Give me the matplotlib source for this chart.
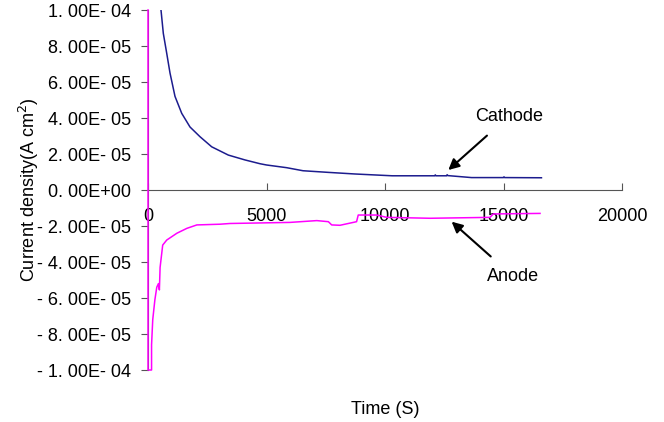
import matplotlib.pyplot as plt
import numpy as np

plt.rcParams['font.family'] = ['Liberation Sans', 'DejaVu Sans']

# Cathode current density (A cm^-2) vs time (s)
cathode_t = [548, 646, 789, 928, 1139, 1422, 1772, 2194, 2687, 3390, 4093,
             4726, 5000, 5850, 6540, 7600, 8730, 10300, 12100, 12120, 12150,
             12600, 12620, 12650, 13650, 15000, 15020, 15040, 16600]
cathode_j = [1.0e-4, 8.7e-5, 7.6e-5, 6.5e-5, 5.2e-5, 4.26e-5, 3.5e-5, 2.96e-5,
             2.4e-5, 1.94e-5, 1.67e-5, 1.46e-5, 1.39e-5, 1.24e-5, 1.07e-5,
             0.98e-5, 0.89e-5, 0.79e-5, 0.79e-5, 0.84e-5, 0.79e-5, 0.79e-5,
             0.85e-5, 0.8e-5, 0.69e-5, 0.69e-5, 0.73e-5, 0.69e-5, 0.68e-5]

# Anode current density (A cm^-2) vs time (s)
anode_t = [0, 0, 150, 150, 200, 290, 370, 440, 480, 510, 620, 790, 1220,
           1640, 2060, 3040, 3460, 5990, 7120, 7610, 7750, 8100, 8800, 8870,
           9650, 10070, 11900, 14430, 14570, 16540]
anode_j = [1.0e-4, -1.0e-4, -1.0e-4, -8.6e-5, -7.2e-5, -6.1e-5, -5.4e-5,
           -5.2e-5, -5.55e-5, -4.3e-5, -3.06e-5, -2.78e-5, -2.4e-5, -2.13e-5,
           -1.94e-5, -1.9e-5, -1.86e-5, -1.8e-5, -1.7e-5, -1.76e-5, -1.94e-5,
           -1.96e-5, -1.76e-5, -1.39e-5, -1.39e-5, -1.52e-5, -1.57e-5,
           -1.52e-5, -1.33e-5, -1.3e-5]

y_ticks = [1e-4, 8e-5, 6e-5, 4e-5, 2e-5, 0, -2e-5, -4e-5, -6e-5, -8e-5, -1e-4]
y_labels = ['1. 00E- 04', '8. 00E- 05', '6. 00E- 05', '4. 00E- 05',
            '2. 00E- 05', '0. 00E+00', '- 2. 00E- 05', '- 4. 00E- 05',
            '- 6. 00E- 05', '- 8. 00E- 05', '- 1. 00E- 04']
x_ticks = [0, 5000, 10000, 15000, 20000]

fig = plt.figure(figsize=(6.64, 4.22), dpi=100)
ax = fig.add_axes([0.2229, 0.1232, 0.7139, 0.8531])

ax.plot(cathode_t, cathode_j, color='#1c1c8e', lw=1.1)
ax.plot(anode_t, anode_j, color='#ff00ff', lw=1.1, zorder=3, clip_on=False)

ax.set_xlim(0, 20000)
ax.set_ylim(-1e-4, 1e-4)

# axes styling: x axis through zero
for s in ['top', 'right']:
    ax.spines[s].set_visible(False)
ax.spines['bottom'].set_position(('data', 0))
ax.spines['bottom'].set_color('#555555')
ax.spines['left'].set_color('#555555')

ax.set_yticks(y_ticks)
ax.set_yticklabels(y_labels)
ax.set_xticks(x_ticks)
ax.tick_params(axis='y', direction='out', length=5, color='#555555',
               labelsize=13, pad=7)
ax.tick_params(axis='x', direction='in', length=5, color='#555555',
               labelsize=13, pad=13)

ax.set_xlabel('Time (S)', fontsize=13)
ax.xaxis.set_label_coords(0.5, -0.085)
ax.set_ylabel('Current density(A cm$^{2}$)', fontsize=13)
ax.yaxis.set_label_coords(-0.225, 0.5)

# annotations
ax.annotate('Cathode', xy=(12670, 1.11e-5), xytext=(15230, 4.11e-5),
            ha='center', va='center', fontsize=13,
            arrowprops=dict(arrowstyle='-|>', color='black', lw=1.5,
                            shrinkA=9, shrinkB=0, mutation_scale=16))
ax.annotate('Anode', xy=(12810, -1.76e-5), xytext=(15390, -4.78e-5),
            ha='center', va='center', fontsize=13,
            arrowprops=dict(arrowstyle='-|>', color='black', lw=1.5,
                            shrinkA=9, shrinkB=0, mutation_scale=16))

fig.savefig('out.png', dpi=100)
